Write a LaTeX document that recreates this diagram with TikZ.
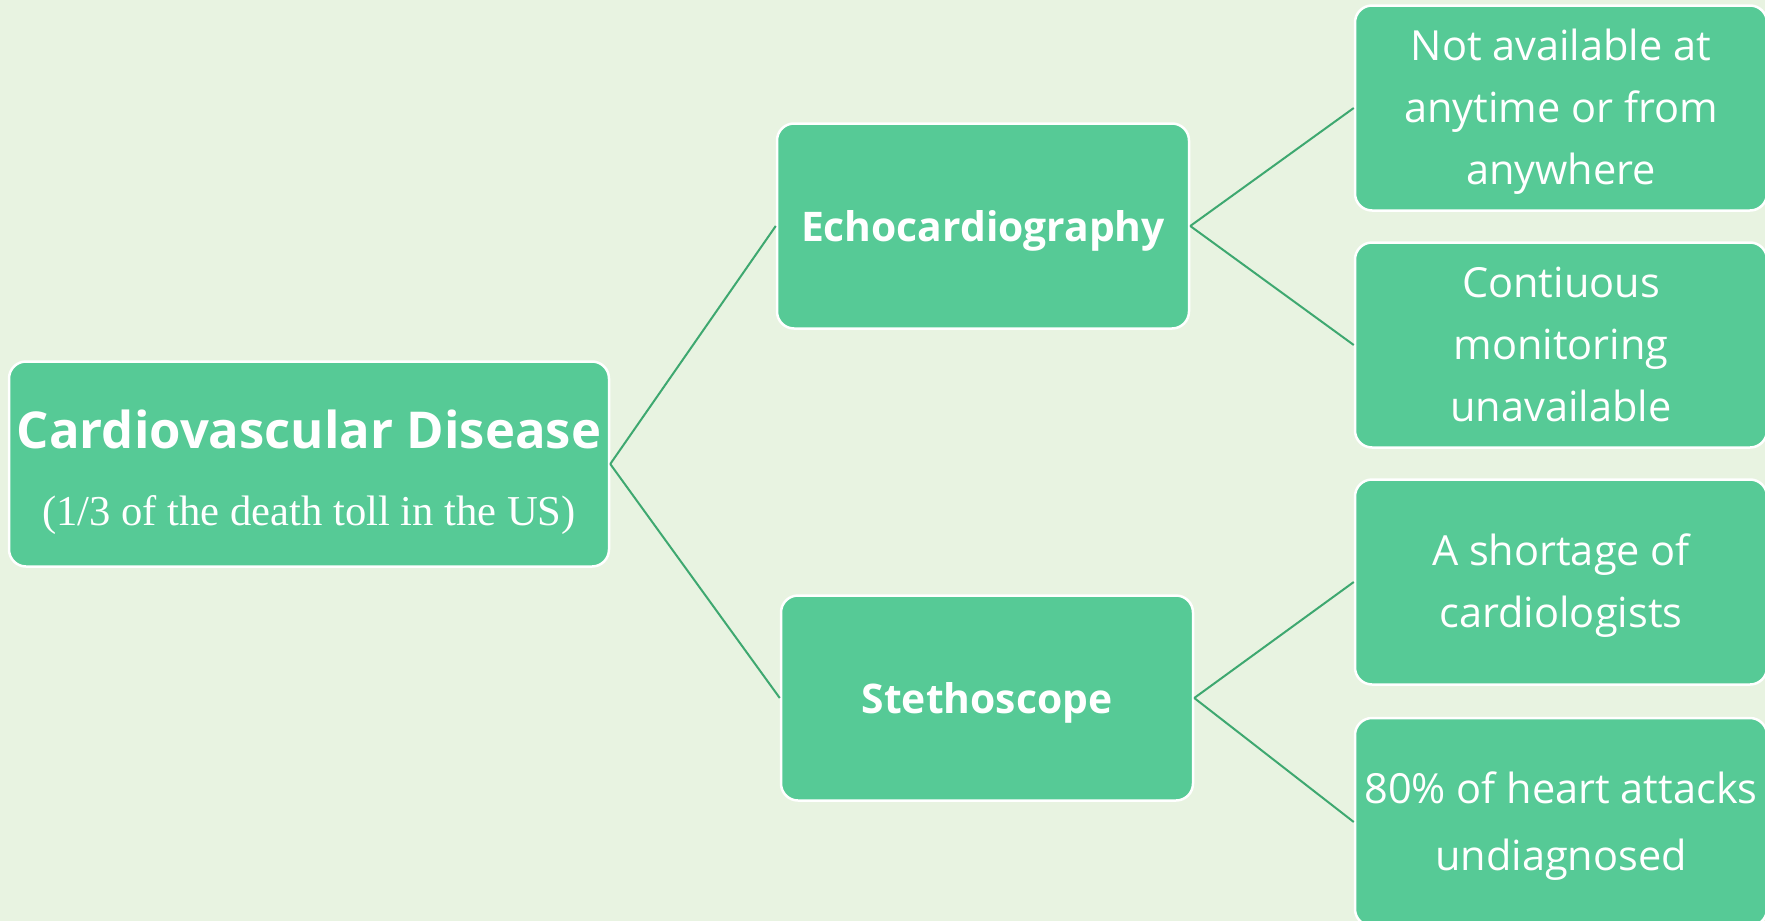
\documentclass[tikz,border=0pt]{standalone}
\usepackage{fontspec}
\setmainfont{Open Sans}
\newfontfamily\serifont{Liberation Serif}
\definecolor{bgc}{RGB}{232,243,225}
\definecolor{boxc}{RGB}{86,202,150}
\definecolor{linec}{RGB}{62,168,112}
\tikzset{
  box/.style={rectangle, rounded corners=17pt, fill=boxc, draw=white, line width=2.5pt,
    minimum width=412pt, minimum height=205pt, inner sep=0pt},
  txt/.style={text=white, align=center, inner sep=0pt},
  midtxt/.style={txt, font=\fontsize{40.8}{48}\selectfont\bfseries},
  leaftxt/.style={txt, font=\fontsize{41.5}{62}\selectfont},
  conn/.style={draw=linec, line width=2pt}
}
\begin{document}
\begin{tikzpicture}[x=1pt,y=-1pt]
\useasboundingbox (0,0) rectangle (1765,921);
\fill[bgc] (0,0) rectangle (1765,921);
\clip (0,0) rectangle (1765,921);
\node[box, minimum width=600pt] (root) at (309,464) {};
\node[txt, font=\fontsize{50.8}{60}\selectfont\bfseries] (roottitle) at (309,429) {Cardiovascular Disease};
\node[txt, font=\serifont\fontsize{42.6}{48}\selectfont] (rootsub) at (309,515.5) {(1/3 of the death toll in the US)};
\node[box] (echo) at (983,226) {};
\node[midtxt] (echot) at (983,230.5) {Echocardiography};
\node[box] (steth) at (987,698) {};
\node[midtxt] (stetht) at (987,702.5) {Stethoscope};
\node[box] (r1) at (1561,108) {};
\node[leaftxt] (r1t) at (1561,111.5) {Not available at\\anytime or from\\anywhere};
\node[box] (r2) at (1561,345) {};
\node[leaftxt] (r2t) at (1561,344) {Contiuous\\monitoring\\unavailable};
\node[box] (r3) at (1561,582) {};
\node[leaftxt] (r3t) at (1561,586) {A shortage of\\cardiologists};
\node[box, minimum height=208pt] (r4) at (1561,822) {};
\node[leaftxt, font=\fontsize{41.5}{67}\selectfont] (r4t) at (1561,826) {80\% of heart attacks\\undiagnosed};
\draw[conn] (root.east) -- (echo.west);
\draw[conn] (root.east) -- (steth.west);
\draw[conn] (echo.east) -- (r1.west);
\draw[conn] (echo.east) -- (r2.west);
\draw[conn] (steth.east) -- (r3.west);
\draw[conn] (steth.east) -- (r4.west);
\end{tikzpicture}
\end{document}
